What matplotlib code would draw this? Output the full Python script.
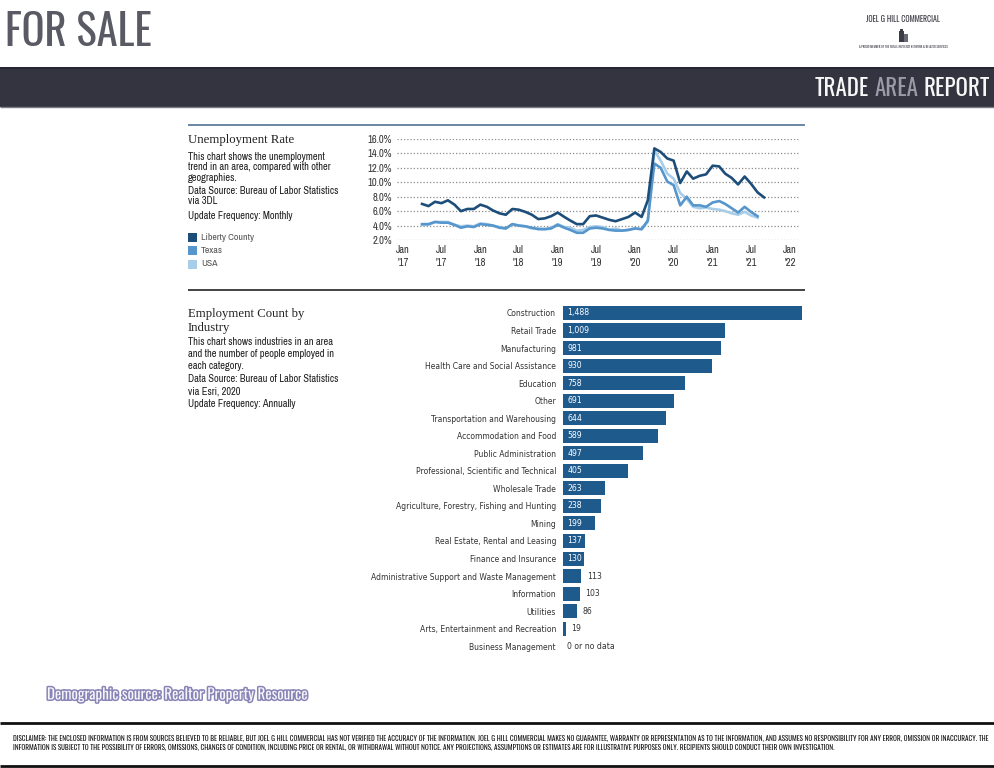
import matplotlib
matplotlib.use('Agg')
import matplotlib.pyplot as plt
import matplotlib.patheffects as pe
import matplotlib.dates as mdates
from matplotlib.patches import Rectangle
from matplotlib.lines import Line2D
from matplotlib import font_manager as fm
import pandas as pd
import numpy as np

# ---------------- data ----------------
series_start = '2017-04-01'
liberty = [7.0, 6.7, 7.3, 7.1, 7.5, 6.9, 6.0, 6.3, 6.3, 6.9, 6.6, 6.1, 5.7, 5.5, 6.3, 6.2,
           5.9, 5.5, 4.9, 5.0, 5.3, 5.8, 5.2, 4.7, 4.2, 4.2, 5.3, 5.4, 5.1, 4.8, 4.6, 4.9,
           5.2, 5.8, 5.2, 7.5, 14.7, 14.2, 13.3, 13.0, 9.9, 11.5, 10.5, 10.9, 11.1, 12.3,
           12.2, 11.2, 10.6, 9.7, 10.8, 9.8, 8.6, 7.9]
texas = [4.2, 4.2, 4.5, 4.4, 4.4, 4.1, 3.7, 3.9, 3.8, 4.2, 4.1, 4.0, 3.7, 3.6, 4.2, 4.0,
         3.9, 3.7, 3.5, 3.5, 3.6, 4.1, 3.7, 3.4, 3.0, 3.0, 3.6, 3.7, 3.6, 3.4, 3.3, 3.3,
         3.4, 3.6, 3.5, 4.7, 12.6, 12.0, 10.1, 9.6, 6.8, 8.0, 6.8, 6.8, 6.6, 7.2, 7.4,
         7.0, 6.4, 5.8, 6.6, 5.9, 5.3]
usa = [4.1, 4.1, 4.5, 4.5, 4.5, 4.1, 3.9, 4.0, 3.9, 4.3, 4.2, 4.0, 3.8, 3.6, 4.2, 4.0,
       3.9, 3.6, 3.6, 3.5, 3.7, 4.2, 3.8, 3.7, 3.3, 3.4, 3.8, 3.9, 3.8, 3.4, 3.6, 3.3,
       3.4, 3.6, 3.5, 4.5, 14.4, 13.0, 11.2, 10.5, 8.5, 7.7, 6.6, 6.4, 6.5, 6.3, 6.2,
       6.0, 5.7, 5.5, 5.9, 5.4, 5.1]
series_names = ['Liberty County', 'Texas', 'USA']
y_ticks = [2, 4, 6, 8, 10, 12, 14, 16]

industries = ['Construction', 'Retail Trade', 'Manufacturing', 'Health Care and Social Assistance',
              'Education', 'Other', 'Transportation and Warehousing', 'Accommodation and Food',
              'Public Administration', 'Professional, Scientific and Technical', 'Wholesale Trade',
              'Agriculture, Forestry, Fishing and Hunting', 'Mining', 'Real Estate, Rental and Leasing',
              'Finance and Insurance', 'Administrative Support and Waste Management', 'Information',
              'Utilities', 'Arts, Entertainment and Recreation', 'Business Management']
employment = [1488, 1009, 981, 930, 758, 691, 644, 589, 497, 405, 263, 238, 199, 137, 130,
              113, 103, 86, 19, 0]

# ---------------- fonts ----------------
names = {f.name for f in fm.fontManager.ttflist}


def pick(*cands):
    for c in cands:
        if c in names:
            return c
    return 'DejaVu Sans'


DISPLAY = pick('Oswald', 'Pathway Gothic One', 'Archivo Narrow')
NARROW = pick('Archivo Narrow', 'Roboto Condensed', 'PT Sans Narrow')
SERIF = pick('Liberation Serif', 'DejaVu Serif')
BARF = dict(family='DejaVu Sans', fontstretch='condensed')

W, H = 994, 768
fig = plt.figure(figsize=(W / 100, H / 100), dpi=100)
fig.patch.set_facecolor('white')


def T(x, y, s, **kw):
    return fig.text(x / W, 1 - y / H, s, **kw)


def hline(y, x0, x1, color, lw):
    fig.add_artist(Line2D([x0 / W, x1 / W], [1 - y / H, 1 - y / H], transform=fig.transFigure,
                          color=color, lw=lw, solid_capstyle='butt'))


def rect(x0, y0, x1, y1, color):
    fig.add_artist(Rectangle((x0 / W, 1 - y1 / H), (x1 - x0) / W, (y1 - y0) / H,
                             transform=fig.transFigure, color=color, lw=0))


def box(x0, y0, x1, y1):
    return [x0 / W, 1 - y1 / H, (x1 - x0) / W, (y1 - y0) / H]


renderer = fig.canvas.get_renderer()


def fit(t, width):
    for _ in range(4):
        w = t.get_window_extent(renderer).width
        t.set_fontsize(t.get_fontsize() * width / w)
    return t


# ---------------- header ----------------
t = T(5, 32.5, 'FOR SALE', fontsize=30, family=DISPLAY, weight='light', color='#5a5a64',
      va='center', ha='left')
fit(t, 147)

t = T(903, 19, 'JOEL G HILL COMMERCIAL', fontsize=5, family=DISPLAY, color='#3a3a44',
      va='center', ha='center')
fit(t, 74)
rect(899, 31, 904, 42, '#3c3c46')
rect(904, 34, 908, 42, '#6a6a74')
rect(900, 29, 903, 31, '#3c3c46')
t = T(903, 47, 'A PROUD MEMBER OF THE RETAIL INVESTOR NETWORK & RELATED SERVICES', fontsize=2.5,
      family=DISPLAY, color='#3a3a44', va='center', ha='center')
fit(t, 90)

rect(0, 67, W, 107, '#33343f')
hline(67.5, 0, W, '#23242c', 1.2)
hline(106.5, 0, W, '#7b7b86', 1.0)

yb = 88
tmp = T(990, yb, 'TRADE AREA REPORT', fontsize=15, family=DISPLAY, va='center', ha='right')
fit(tmp, 175)
fs_band = tmp.get_fontsize()
gap = tmp.get_window_extent(renderer).width
tmp.remove()
tr = T(990, yb, 'REPORT', fontsize=fs_band, family=DISPLAY, color='#f7f7f7', va='center', ha='right')
tmp2 = T(0, 0, 'TRADE', fontsize=fs_band, family=DISPLAY)
tmp3 = T(0, 0, 'AREA', fontsize=fs_band, family=DISPLAY)
space = (gap - tr.get_window_extent(renderer).width - tmp2.get_window_extent(renderer).width
         - tmp3.get_window_extent(renderer).width) / 2
tmp2.remove()
tmp3.remove()
x_right = tr.get_window_extent(renderer).x0 - space
ta = fig.text(x_right / W, 1 - yb / H, 'AREA', fontsize=fs_band, family=DISPLAY, color='#9b9ba8',
              va='center', ha='right')
x_right = ta.get_window_extent(renderer).x0 - space
fig.text(x_right / W, 1 - yb / H, 'TRADE', fontsize=fs_band, family=DISPLAY, color='#f7f7f7',
         va='center', ha='right')

# ---------------- unemployment section ----------------
hline(125, 188, 805, '#4f7394', 1.2)
T(188, 139.5, 'Unemployment Rate', fontsize=9.2, family=SERIF, color='#222222', va='center')
desc_fs = 7.3
desc = [(157, 'This chart shows the unemployment'), (167, 'trend in an area, compared with other'),
        (178, 'geographies.'), (191, 'Data Source: Bureau of Labor Statistics'), (201, 'via 3DL'),
        (216, 'Update Frequency: Monthly')]
for y, s in desc:
    t = T(188, y, s, fontsize=desc_fs, family=NARROW, color='#1e1e1e', va='center')
    if s.startswith('This'):
        fit(t, 137)
        desc_fs = t.get_fontsize()

line_colors = ['#1d4e7a', '#5696cc', '#a8cde9']
for i, (name, c) in enumerate(zip(series_names, line_colors)):
    y = 237 + i * 13.5
    rect(188, y - 4.5, 197, y + 4.5, c)
    T(201, y, name, fontsize=desc_fs * 0.95, family=NARROW, color='#555555', va='center')

ax1 = fig.add_axes(box(397, 139, 800, 240))
d_lib = pd.date_range(series_start, periods=len(liberty), freq='MS')
d_tx = pd.date_range(series_start, periods=len(texas), freq='MS')
d_us = pd.date_range(series_start, periods=len(usa), freq='MS')
ax1.plot(d_us, usa, color=line_colors[2], lw=1.9, clip_on=False, solid_joinstyle='round')
ax1.plot(d_tx, texas, color=line_colors[1], lw=1.9, clip_on=False, solid_joinstyle='round')
ax1.plot(d_lib, liberty, color=line_colors[0], lw=1.9, clip_on=False, solid_joinstyle='round')
x0 = mdates.date2num(pd.Timestamp('2017-01-01'))
x1 = mdates.date2num(pd.Timestamp('2022-01-01'))
ppd = 387 / (x1 - x0)
ax1.set_xlim(x0 - 6 / ppd, x1 + 10 / ppd)
ax1.set_ylim(2, 16)
ax1.set_yticks(y_ticks)
ax1.set_yticklabels([f'{v:.1f}%' for v in y_ticks])
xt = pd.date_range('2017-01-01', '2022-01-01', freq='6MS')
ax1.set_xticks(mdates.date2num(xt))
ax1.set_xticklabels([f"{d.strftime('%b')}\n'{d.strftime('%y')}" for d in xt], linespacing=1.35)
ax1.grid(axis='y', linestyle=(0, (1, 1.6)), color='#8c8c8c', lw=0.9)
ax1.set_axisbelow(True)
for s in ax1.spines.values():
    s.set_visible(False)
ax1.tick_params(length=0, labelsize=7.6, colors='#333333', pad=3.5)
for lab in ax1.get_xticklabels() + ax1.get_yticklabels():
    lab.set_family(NARROW)
ax1.patch.set_alpha(0)

# ---------------- employment section ----------------
hline(290, 188, 805, '#222222', 1.2)
T(188, 313.5, 'Employment Count by', fontsize=9.2, family=SERIF, color='#222222', va='center')
T(188, 327.5, 'Industry', fontsize=9.2, family=SERIF, color='#222222', va='center')
desc2 = [(342, 'This chart shows industries in an area'), (354, 'and the number of people employed in'),
         (366, 'each category.'), (379, 'Data Source: Bureau of Labor Statistics'),
         (391, 'via Esri, 2020'), (404, 'Update Frequency: Annually')]
for y, s in desc2:
    T(188, y, s, fontsize=desc_fs, family=NARROW, color='#1e1e1e', va='center')

ax2 = fig.add_axes(box(563, 304.2, 802, 655))
yy = np.arange(len(industries))
ax2.barh(yy, employment, height=0.8, color='#1f5a8c')
ax2.set_xlim(0, max(employment))
ax2.set_ylim(len(industries) - 0.5, -0.5)
ax2.set_yticks(yy)
ax2.set_yticklabels(industries)
ax2.set_xticks([])
for s in ax2.spines.values():
    s.set_visible(False)
ax2.tick_params(length=0, pad=5, labelsize=6.15, labelcolor='#333333')
for lab in ax2.get_yticklabels():
    lab.set_family(BARF['family'])
    lab.set_fontstretch(BARF['fontstretch'])
ax2.patch.set_alpha(0)
for i, v in enumerate(employment):
    if v == 0:
        ax2.annotate('0 or no data', (0, i), xytext=(3, 0), textcoords='offset points',
                     va='center', ha='left', fontsize=6.2, color='#333333', **BARF)
    elif v >= 120:
        ax2.annotate(f'{v:,}', (0, i), xytext=(3, 0), textcoords='offset points',
                     va='center', ha='left', fontsize=6.2, color='white', **BARF)
    else:
        ax2.annotate(f'{v:,}', (v, i), xytext=(4, 0), textcoords='offset points',
                     va='center', ha='left', fontsize=6.2, color='#333333', **BARF)

# ---------------- footer ----------------
t = T(47, 695, 'Demographic source: Realtor Property Resource', fontsize=10, family=DISPLAY,
      color='#f6f6fb', va='center', ha='left',
      path_effects=[pe.withStroke(linewidth=2.2, foreground='#8884b6')])
fit(t, 261)

hline(722.5, 0, W, '#111111', 2.0)
hline(765.5, 0, W, '#111111', 2.0)
l1 = ('DISCLAIMER: THE ENCLOSED INFORMATION IS FROM SOURCES BELIEVED TO BE RELIABLE, BUT JOEL G HILL '
      'COMMERCIAL HAS NOT VERIFIED THE ACCURACY OF THE INFORMATION. JOEL G HILL COMMERCIAL MAKES NO '
      'GUARANTEE, WARRANTY OR REPRESENTATION AS TO THE INFORMATION, AND ASSUMES NO RESPONSIBILITY FOR '
      'ANY ERROR, OMISSION OR INACCURACY. THE')
l2 = ('INFORMATION IS SUBJECT TO THE POSSIBILITY OF ERRORS, OMISSIONS, CHANGES OF CONDITION, INCLUDING '
      'PRICE OR RENTAL, OR WITHDRAWAL WITHOUT NOTICE. ANY PROJECTIONS, ASSUMPTIONS OR ESTIMATES ARE FOR '
      'ILLUSTRATIVE PURPOSES ONLY. RECIPIENTS SHOULD CONDUCT THEIR OWN INVESTIGATION.')
t1 = T(13, 738, l1, fontsize=4.5, family=DISPLAY, color='#111111', va='center', ha='left')
fit(t1, 970)
T(13, 747, l2, fontsize=t1.get_fontsize(), family=DISPLAY, color='#111111', va='center', ha='left')

fig.savefig('out.png', dpi=100)
